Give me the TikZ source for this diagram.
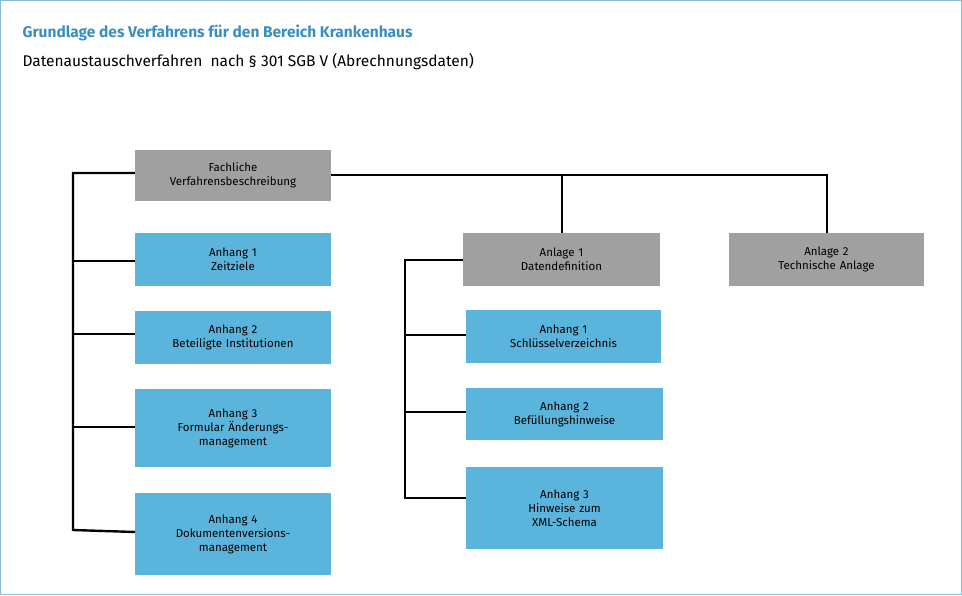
\documentclass[tikz,border=0pt]{standalone}
\usepackage{fontspec}
\setmainfont{Fira Sans}
\definecolor{gbox}{HTML}{A0A0A0}
\definecolor{bbox}{HTML}{5BB4DC}
\definecolor{ttl}{HTML}{3A8FC0}
\begin{document}
\begin{tikzpicture}[x=1pt,y=-1pt,
  box/.style={minimum width=#1, text width=#1, align=center, inner sep=0pt, font=\fontsize{11.5}{14}\selectfont},
  g/.style={fill=gbox},
  b/.style={fill=bbox},
  ln/.style={line width=2.4pt}]
\useasboundingbox (0,0) rectangle (962,595);
\draw[ttl!60,line width=1pt] (0.5,0.5) rectangle (961.5,594.5);
\node[anchor=west,text=ttl,font=\fontsize{15.5}{18}\selectfont\bfseries] (t1) at (19,33) {Grundlage des Verfahrens für den Bereich Krankenhaus};
\node[anchor=west,font=\fontsize{15.5}{18}\selectfont] (t2) at (19,62) {Datenaustauschverfahren\ \ nach § 301 SGB V (Abrechnungsdaten)};
\newcommand\bx[7]{\fill[#2] (#3,#4) rectangle (#5,#6); \node[box=#5pt-#3pt] (#1) at ({(#3+#5)/2},{(#4+#6)/2}) {#7};}
\bx{fv}{gbox}{135}{150}{331}{201}{Fachliche\\Verfahrensbeschreibung}
\bx{a1}{bbox}{135}{233}{331}{286}{Anhang 1\\Zeitziele}
\bx{a2}{bbox}{135}{311}{331}{364}{Anhang 2\\Beteiligte Institutionen}
\bx{a3}{bbox}{135}{389}{331}{467}{Anhang 3\\Formular Änderungs-\\management}
\bx{a4}{bbox}{135}{493}{331}{575}{Anhang 4\\Dokumentenversions-\\management}
\bx{l1}{gbox}{463}{233}{660}{286}{Anlage 1\\Datendefinition}
\bx{b1}{bbox}{466}{310}{661}{363}{Anhang 1\\Schlüsselverzeichnis}
\bx{b2}{bbox}{466}{388}{663}{440}{Anhang 2\\Befüllungshinweise}
\bx{b3}{bbox}{466}{467}{663}{549}{Anhang 3\\Hinweise zum\\XML-Schema}
\bx{l2}{gbox}{729}{233}{924}{286}{Anlage 2\\Technische Anlage}
\coordinate (L) at (73,173);
\draw[ln] (fv.west|-0,173) -- (73,173) -- (73,530) -- (135,532);
\foreach \n/\y in {a1/261,a2/334,a3/427} \draw[ln] (73,\y) -- (135,\y);
\draw[ln] (331,175) -- (827,175) -- (827,233);
\draw[ln] (562,175) -- (562,233);
\draw[ln] (463,260) -- (405,260) -- (405,498) -- (466,498);
\foreach \y in {335,412} \draw[ln] (405,\y) -- (466,\y);
\end{tikzpicture}
\end{document}
